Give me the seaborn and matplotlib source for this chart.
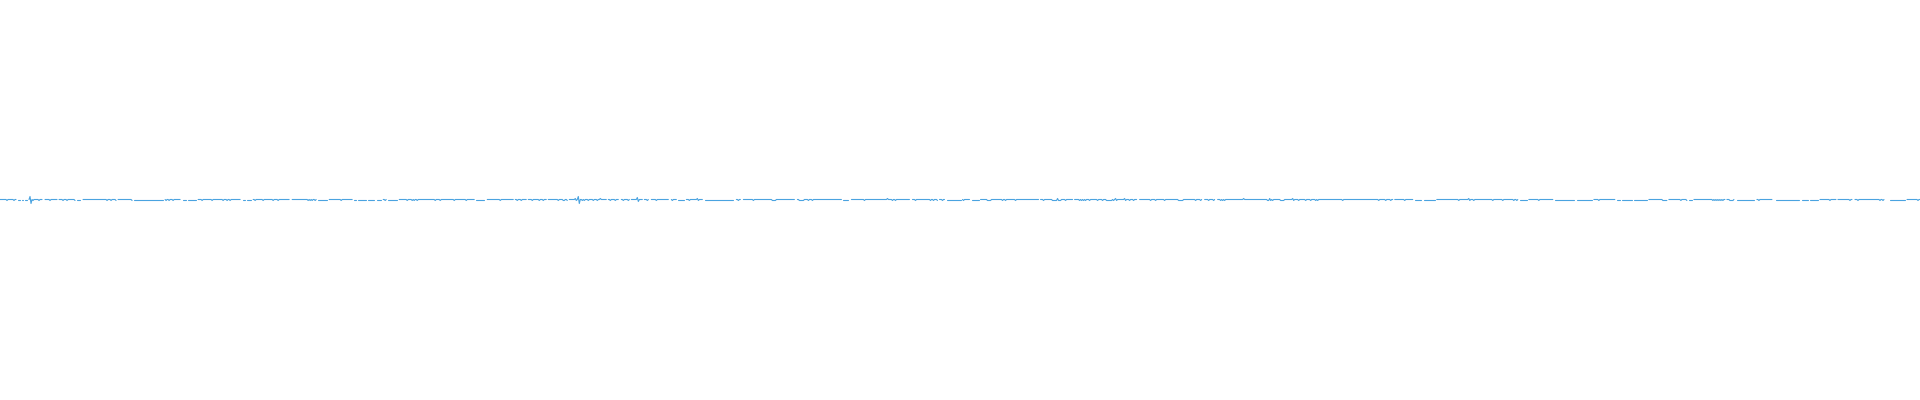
import numpy as np
import pandas as pd
import matplotlib
matplotlib.use("Agg")
import matplotlib.pyplot as plt
import seaborn as sns

# ---- data (x in sample index, y in level units) ----
n_samples = 1920
base_level = 0.5

# start index of each break in the line, and its length in samples
gap_x = [
    17, 21, 24, 28, 43, 58, 76, 81, 117, 133, 164, 181, 187, 197,
    241, 246, 252, 290, 317,
    328, 353, 357, 367, 375, 382, 387, 398, 475, 485, 514, 527,
    547, 568, 607, 619, 630,
    643, 649, 669, 677, 685, 703, 734, 741, 795, 842, 849, 910,
    938, 945,
    961, 970, 979, 1039, 1073, 1137, 1202, 1215,
    1393, 1413, 1421, 1435, 1518, 1527, 1553, 1574, 1592,
    1615, 1620, 1632, 1647, 1667, 1687, 1692, 1725, 1734, 1754,
    1772, 1774, 1799, 1808, 1818, 1836, 1852, 1884, 1886, 1888, 1905,
]
gap_len = [
    1, 1, 1, 1, 2, 1, 1, 2, 1, 1, 1, 2, 1, 1,
    2, 1, 1, 2, 1,
    1, 1, 1, 1, 2, 1, 1, 1, 1, 2, 1, 1,
    1, 1, 1, 2, 1,
    1, 2, 2, 1, 1, 2, 2, 2, 2, 1, 2, 2,
    1, 2,
    1, 1, 1, 1, 1, 2, 2, 2,
    1, 1, 2, 1, 1, 1, 1, 2, 1,
    1, 1, 1, 1, 1, 1, 1, 1, 2, 2,
    1, 1, 2, 1, 1, 1, 2, 1, 1, 1, 1,
]

dip_x = [
    7, 14, 33, 39, 50, 63, 67, 75, 107, 111, 116, 132, 166, 169, 173, 202, 212,
    223, 227, 230, 255, 263, 273, 278, 308, 310, 312, 315,
    341, 385, 407, 412, 414, 417, 435, 440, 454, 466, 500, 517, 521, 532, 539,
    543, 558, 563, 564, 567, 582, 584, 588, 593, 597, 610, 615, 623, 628,
    647, 656, 672, 689, 738, 753, 772, 773, 774, 775, 799, 800, 801, 802, 803,
    808, 812, 864, 892, 895, 915, 930, 933, 937, 942,
    963, 987, 988, 989, 990, 1002, 1005, 1015, 1043, 1052, 1053, 1054, 1055,
    1056, 1058, 1059, 1060, 1065, 1079, 1081, 1083, 1085, 1089, 1097, 1102,
    1106, 1107, 1108, 1109, 1110, 1111, 1113, 1116, 1125, 1129, 1133, 1150,
    1155, 1164, 1178, 1179, 1180, 1181, 1182, 1195, 1200, 1208, 1213, 1220,
    1222, 1224, 1267, 1268, 1270, 1272,
    1280, 1281, 1282, 1283, 1298, 1305, 1310, 1315, 1317, 1342, 1378, 1385,
    1390, 1404, 1458, 1473, 1492, 1502, 1513, 1516, 1538, 1598,
    1662, 1663, 1664, 1665, 1666, 1680, 1686, 1712, 1714, 1716, 1718, 1720,
    1722, 1729, 1730, 1731, 1732, 1758, 1773, 1829, 1849, 1857, 1879, 1882,
    1917,
]
dip_depth = 1.0

spike_x = [30, 575, 578, 600, 637, 697, 887, 1057, 1115, 1124, 1243, 1269, 1292, 1468]
spike_up = [3, 1, 3, 1, 2, 1, 1, 1, 1, 1, 1, 1, 1, 1]
spike_down = [4, 1, 4, 0, 2, 1, 0, 0, 0, 0, 0, 0, 1, 1]

line_color = "#4aa3e0"

# ---- assemble the series ----
level = np.full(n_samples, base_level, dtype=float)
for d in dip_x:
    level[d] = base_level - dip_depth
for sx, su, sd in zip(spike_x, spike_up, spike_down):
    level[sx] = base_level + su
    if sd:
        level[sx + 1] = base_level - sd
for g, ln in zip(gap_x, gap_len):
    level[g:g + ln] = np.nan

df = pd.DataFrame({"x": np.arange(n_samples), "y": level})
df["segment"] = df["y"].isna().cumsum()
df = df.dropna()

# ---- draw ----
sns.set_style("white")
fig = plt.figure(figsize=(19.2, 4), dpi=100)
ax = fig.add_axes([0, 0, 1, 1])
sns.lineplot(data=df, x="x", y="y", units="segment", estimator=None,
             color=line_color, linewidth=0.8, ax=ax, legend=False)
ax.set_xlim(0, n_samples - 1)
ax.set_ylim(-200, 200)
ax.axis("off")
fig.savefig("out.png", dpi=100, facecolor="white")
